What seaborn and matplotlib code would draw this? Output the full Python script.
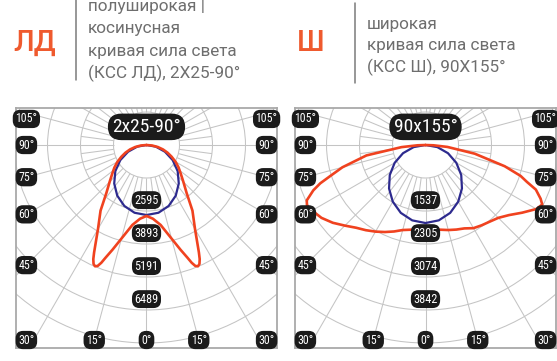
import numpy as np
import pandas as pd
import matplotlib
matplotlib.use("Agg")
import matplotlib.pyplot as plt
from matplotlib.patches import Circle
from matplotlib import font_manager as fm
import seaborn as sns

sns.set_theme(style="white")
plt.rcParams['font.family'] = ['Roboto', 'DejaVu Sans']

# ---- data -------------------------------------------------------------
# ЛД: semi-wide / cosine light distribution, 2x25-90°
ld_ring_values = [2595, 3893, 5191, 6489]
ld_red_angles = [0, 5, 10, 15, 18, 20, 21, 22, 23, 24, 25, 26, 28, 30, 35, 40, 45, 50, 55, 60, 65,
                 70, 75, 80, 85, 90]
ld_red_cd = [2790, 2910, 3190, 3810, 4330, 4720, 4960, 5130, 5180, 5120, 4950, 4700, 4210, 3815,
             3150, 2450, 2050, 1760, 1540, 1320, 1090, 880, 670, 450, 225, 0]
ld_blue_angles = [0, 10, 20, 30, 40, 50, 60, 70, 80, 90]
ld_blue_cd = [2753, 2705, 2550, 2300, 1975, 1600, 1190, 770, 370, 0]

# Ш: wide light distribution, 90x155°
sh_ring_values = [1537, 2305, 3074, 3842]
sh_red_angles = [-90, -88, -85, -80, -75, -72, -70, -68, -65, -63, -60, -55, -50, -45, -40, -35, -30,
                 -25, -20, -15, -10, 0, 10, 15, 20, 25, 30, 35, 40, 45, 50, 55, 60, 63, 65, 68,
                 70, 72, 75, 80, 85, 88, 90]
sh_red_cd = [0, 186, 559, 1397, 2003, 2329, 2608, 2818, 3051, 3098, 3051, 2958, 2818, 2655, 2515,
             2422, 2329, 2236, 2143, 2050, 2003, 1956, 2003, 2050, 2096, 2143, 2236, 2282, 2329,
             2399, 2539, 2748, 2981, 3051, 2958, 2772, 2515, 2329, 1910, 1165, 512, 186, 0]
sh_blue_angles = [0, 10, 20, 30, 40, 50, 60, 70, 80, 90]
sh_blue_cd = [1817, 1782, 1682, 1524, 1321, 1086, 829, 557, 280, 0]

side_angle_labels = [105, 90, 75, 60, 45, 30]
bottom_angle_labels = [15, 0]

RED = "#F0421F"
BLUE = "#2D2A8E"
GRID = "#c4c4c4"
ORANGE = "#EF5A2E"
TEXT_GREY = "#6e6e6e"


def pick_font(*names):
    for n in names:
        try:
            fm.findfont(fm.FontProperties(family=n), fallback_to_default=False)
            return n
        except Exception:
            continue
    return "DejaVu Sans"


NARROW = pick_font("Liberation Sans Narrow", "Roboto Condensed", "DejaVu Sans")
narrow_stretch = "normal" if NARROW != "DejaVu Sans" else "condensed"

W, H = 557, 361
fig = plt.figure(figsize=(W / 100, H / 100), dpi=100)


def polar_frame(df_deg, vals):
    g = np.radians(np.asarray(df_deg, dtype=float))
    v = np.asarray(vals, dtype=float)
    return pd.DataFrame({"x": v * np.sin(g), "y": -v * np.cos(g)})


def mirrored(angles, vals):
    a = [-x for x in angles[::-1]] + list(angles[1:])
    v = list(vals[::-1]) + list(vals[1:])
    return a, v


def pill(ax, x, y, s, size=8.6, pad=0.22):
    ax.text(x, y, s, ha="center", va="center", color="white", fontsize=size,
            family=[NARROW, "DejaVu Sans"], stretch=narrow_stretch, zorder=10,
            bbox=dict(boxstyle=f"round,pad={pad},rounding_size=0.62", fc="#1b1b1b", ec="none"))


def panel(left_px, ring_values, red_a, red_v, blue_a, blue_v, title):
    step = ring_values[0] / 2.0
    ax = fig.add_axes([left_px / W, 13 / H, 261 / W, 240 / H])
    ax.set_xlim(-3.955 * step, 3.955 * step)
    ax.set_ylim(-6.15 * step, 1.12 * step)
    ax.set_aspect("equal")
    ax.set_xticks([])
    ax.set_yticks([])
    for sp in ax.spines.values():
        sp.set_color("#a9a9a9")
        sp.set_linewidth(1.3)

    # rings
    for k in range(1, 9):
        ax.add_patch(Circle((0, 0), k * step, fill=False, ec=GRID, lw=0.75, zorder=1))
    # spokes: every 15° from the first ring outwards, every 7.5° in the second ring
    for a in np.arange(0, 360, 7.5):
        r0, r1 = (1 * step, 10 * step) if a % 15 == 0 else (1 * step, 2 * step)
        t = np.radians(a)
        ax.plot([r0 * np.sin(t), r1 * np.sin(t)], [-r0 * np.cos(t), -r1 * np.cos(t)],
                color=GRID, lw=0.75, zorder=1, solid_capstyle="butt")

    bdf = polar_frame(*mirrored(blue_a, blue_v))
    sns.lineplot(data=bdf, x="x", y="y", sort=False, estimator=None, color=BLUE, lw=1.6,
                 ax=ax, zorder=4)
    rdf = polar_frame(red_a, red_v)
    sns.lineplot(data=rdf, x="x", y="y", sort=False, estimator=None, color=RED, lw=1.9,
                 ax=ax, zorder=5)
    ax.set_xlabel("")
    ax.set_ylabel("")

    # angle labels along the frame
    xs, yb, ytop = 3.64 * step, -5.91 * step, 0.79 * step
    for a in side_angle_labels:
        t = np.radians(a)
        y = -xs * np.cos(t) / np.sin(t)
        y = min(max(y, yb), ytop)
        for sgn in (-1, 1):
            pill(ax, sgn * xs, y, f"{a}°")
    for a in bottom_angle_labels:
        x = -yb * np.tan(np.radians(a))
        for sgn in ((-1, 1) if a else (1,)):
            pill(ax, sgn * x, yb, f"{a}°")

    # intensity values on the rings
    for k, v in enumerate(ring_values, start=2):
        pill(ax, 0, -(k - 0.33) * step, str(v), size=8.8, pad=0.2)

    ax.text(0, 0.55 * step, title, ha="center", va="center", color="white", fontsize=14,
            family=[NARROW, "DejaVu Sans"], stretch=narrow_stretch, zorder=11,
            bbox=dict(boxstyle="round,pad=0.22,rounding_size=0.7", fc="#1b1b1b", ec="none"))
    return ax


panel(16, ld_ring_values, *mirrored(ld_red_angles, ld_red_cd), ld_blue_angles, ld_blue_cd,
      "2x25-90°")
panel(295, sh_ring_values, sh_red_angles, sh_red_cd, sh_blue_angles, sh_blue_cd, "90x155°")


def ftext(x, y, s, **kw):
    fig.text(x / W, 1 - y / H, s, **kw)


# headers
ftext(34.5, 43, "ЛД", ha="center", va="center", color=ORANGE, fontsize=21, fontweight="medium")
ftext(311, 43, "Ш", ha="center", va="center", color=ORANGE, fontsize=21, fontweight="medium")
fig.add_artist(plt.Line2D([76 / W, 76 / W], [1 - 0 / H, 1 - 80 / H], color="#7a7a7a", lw=1.1))
fig.add_artist(plt.Line2D([355 / W, 355 / W], [1 - 3 / H, 1 - 83 / H], color="#7a7a7a", lw=1.1))

left_lines = ["полуширокая |", "косинусная", "кривая сила света", "(КСС ЛД), 2X25-90°"]
for i, s in enumerate(left_lines):
    ftext(88, 6 + i * 22.6, s, ha="left", va="center", color=TEXT_GREY, fontsize=12.3)
right_lines = ["широкая", "кривая сила света", "(КСС Ш), 90X155°"]
for i, s in enumerate(right_lines):
    ftext(367, 24 + i * 21.5, s, ha="left", va="center", color=TEXT_GREY, fontsize=12.3)

fig.savefig("out.png", dpi=100)
